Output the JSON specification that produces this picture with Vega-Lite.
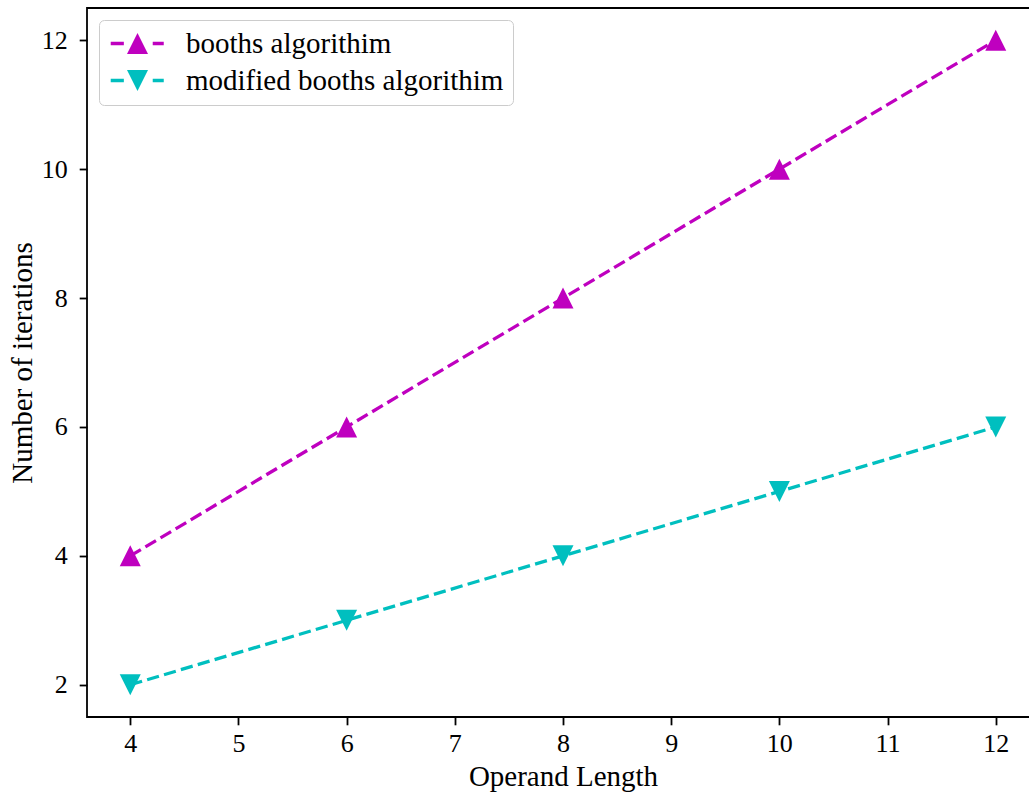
{
  "$schema": "https://vega.github.io/schema/vega-lite/v6.json",
  "width": 952,
  "height": 709,
  "autosize": {"type": "none"},
  "padding": {"left": 87, "top": 8, "right": -10, "bottom": 84},
  "background": "white",
  "config": {
    "view": {"stroke": "black", "strokeWidth": 1.8},
    "font": "Liberation Serif",
    "axis": {
      "grid": false,
      "domain": false,
      "tickColor": "black",
      "tickWidth": 1.8,
      "tickSize": 7.8,
      "labelFont": "Liberation Serif",
      "labelFontSize": 26,
      "labelColor": "black",
      "titleFont": "Liberation Serif",
      "titleFontSize": 29,
      "titleFontWeight": "normal",
      "titleColor": "black"
    }
  },
  "data": {
    "values": [
      {"series": "booths algorithim", "x": 4, "y": 4},
      {"series": "booths algorithim", "x": 6, "y": 6},
      {"series": "booths algorithim", "x": 8, "y": 8},
      {"series": "booths algorithim", "x": 10, "y": 10},
      {"series": "booths algorithim", "x": 12, "y": 12},
      {"series": "modified booths algorithim", "x": 4, "y": 2},
      {"series": "modified booths algorithim", "x": 6, "y": 3},
      {"series": "modified booths algorithim", "x": 8, "y": 4},
      {"series": "modified booths algorithim", "x": 10, "y": 5},
      {"series": "modified booths algorithim", "x": 12, "y": 6}
    ]
  },
  "encoding": {
    "x": {
      "field": "x", "type": "quantitative",
      "scale": {"domain": [3.6, 12.4], "nice": false, "zero": false},
      "axis": {"title": "Operand Length", "values": [4,5,6,7,8,9,10,11,12], "format": "d", "labelPadding": 6, "titlePadding": 6}
    },
    "y": {
      "field": "y", "type": "quantitative",
      "scale": {"domain": [1.5, 12.5], "nice": false, "zero": false},
      "axis": {"title": "Number of iterations", "values": [2,4,6,8,10,12], "format": "d", "labelPadding": 12, "titlePadding": 4}
    }
  },
  "layer": [
    {
      "mark": {"type": "point", "filled": true, "opacity": 0, "size": 441},
      "encoding": {
        "shape": {
          "field": "series", "type": "nominal",
          "scale": {
            "domain": ["booths algorithim", "modified booths algorithim"],
            "range": [
              "M-2.55,-0.16H-1.3V0.16H-2.55Z M0,-1L-1,1L1,1Z M1.45,-0.16H2.5V0.16H1.45Z",
              "M-2.55,-0.16H-1.3V0.16H-2.55Z M-1,-1L1,-1L0,1Z M1.45,-0.16H2.5V0.16H1.45Z"
            ]
          },
          "legend": {
            "title": null,
            "orient": "top-left",
            "offset": 12,
            "padding": 9,
            "rowPadding": 7,
            "symbolSize": 441,
            "symbolOffset": 15,
            "labelOffset": 34,
            "labelLimit": 0,
            "labelFont": "Liberation Serif",
            "labelFontSize": 29,
            "labelColor": "black",
            "fillColor": "rgba(255,255,255,0.8)",
            "strokeColor": "#cccccc",
            "cornerRadius": 5,
            "symbolStrokeWidth": 0,
            "symbolOpacity": 1,
            "encode": {"symbols": {"update": {"opacity": {"value": 1}, "fillOpacity": {"value": 1}, "size": {"value": 441}}}}
          }
        },
        "color": {
          "field": "series", "type": "nominal",
          "scale": {"domain": ["booths algorithim", "modified booths algorithim"], "range": ["#bf00bf", "#00bfbf"]}
        }
      }
    },
    {
      "mark": {"type": "line", "strokeDash": [12.3, 5.3], "strokeWidth": 3.3},
      "encoding": {
        "stroke": {
          "field": "series", "type": "nominal",
          "scale": {"domain": ["booths algorithim", "modified booths algorithim"], "range": ["#bf00bf", "#00bfbf"]},
          "legend": null
        }
      }
    },
    {
      "transform": [{"filter": "datum.series == 'booths algorithim'"}],
      "mark": {"type": "point", "filled": true, "opacity": 1, "size": 441, "shape": "M0,-1L-1,1L1,1Z", "color": "#bf00bf"}
    },
    {
      "transform": [{"filter": "datum.series == 'modified booths algorithim'"}],
      "mark": {"type": "point", "filled": true, "opacity": 1, "size": 441, "shape": "M-1,-1L1,-1L0,1Z", "color": "#00bfbf"}
    }
  ]
}
